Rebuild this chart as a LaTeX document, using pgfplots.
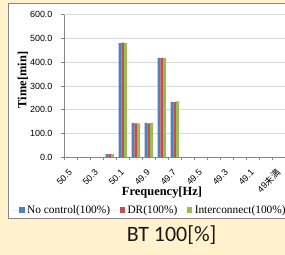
\documentclass[border=0pt]{standalone}
\usepackage{pgfplots}
\pgfplotsset{compat=1.18}
\usepackage{fontspec}
\setmainfont{Liberation Serif}
\newfontfamily\arial{Liberation Sans}
\newfontfamily\cjk{Noto Sans CJK JP}
\newfontfamily\calibri{Carlito}
\definecolor{bgY}{HTML}{FFF2CC}
\definecolor{cBlue}{HTML}{4F81BD}
\definecolor{cRed}{HTML}{C0504D}
\definecolor{cGreen}{HTML}{9BBB59}
\definecolor{axgray}{HTML}{868686}
\definecolor{gridc}{HTML}{D9D9D9}
\pgfplotsset{sqleg/.style={legend image code/.code={\path (-8.6bp,0bp) -- (7.2bp,0bp); \fill[#1] (0bp,-2.8bp) rectangle (5.5bp,2.8bp);}}}
\begin{document}
\begin{tikzpicture}[x=1bp,y=1bp]
\useasboundingbox (0,0) rectangle (285,255);
\clip (0,0) rectangle (285,255);
\fill[bgY] (0,0) rectangle (285,255);
\filldraw[fill=white, draw=axgray, line width=0.8bp] (8,37) rectangle (300,251.5);
\begin{axis}[
  at={(64.3bp,97.7bp)}, anchor=south west,
  scale only axis, width=221bp, height=142.6bp,
  xmin=-0.5, xmax=16.5, ymin=0, ymax=600,
  ybar=0pt, bar width=2.8bp,
  axis x line*=bottom, axis y line*=left,
  axis line style={draw=axgray, line width=0.6bp},
  xtick={0,2,...,16},
  xticklabels={50.5,50.3,50.1,49.9,49.7,49.5,49.3,49.1,{49\cjk 未満}},
  minor xtick={-0.5,0.5,...,16.5},
  major x tick style={draw=none},
  minor x tick style={draw=axgray, line width=0.6bp},
  ytick={0,100,...,600},
  major y tick style={draw=axgray, line width=0.6bp},
  tick align=outside, major tick length=3bp, minor tick length=3bp,
  ymajorgrids, grid style={draw=gridc, line width=0.6bp},
  xticklabel style={xshift=0.5bp, yshift=-10bp, rotate=45, anchor=east, font=\arial\fontsize{9}{10}\selectfont, inner sep=1bp},
  yticklabel style={xshift=-5.3bp, font=\arial\fontsize{9}{10}\selectfont, /pgf/number format/.cd, fixed, fixed zerofill, precision=1, assume math mode=true},
  legend columns=3,
  legend style={at={(axis description cs:-0.2439,-0.3696)}, anchor=west, draw=none, fill=none, inner sep=0pt,
    font=\fontsize{11.4}{12}\selectfont, nodes={inner sep=0.8bp, anchor=west},
    /tikz/column sep=0pt,
    /tikz/every even column/.style={column sep=0pt},
    /tikz/every odd column/.style={column sep=0pt}},
]
\addplot[fill=cBlue, draw=none, sqleg=cBlue]
  coordinates {(3,13) (4,480) (5,145) (6,145) (7,418) (8,233)};
\addplot[fill=cRed, draw=none, sqleg=cRed]
  coordinates {(3,13) (4,482) (5,143) (6,143) (7,418) (8,232)};
\addplot[fill=cGreen, draw=none, sqleg=cGreen]
  coordinates {(3,13) (4,480) (5,143) (6,145) (7,418) (8,235)};
\legend{No control(100\%),DR(100\%),Interconnect(100\%)}
\end{axis}
\node[rotate=90, font=\bfseries\fontsize{12.5}{13}\selectfont] at (23,175) {Time[min]};
\node[font=\bfseries\fontsize{12.5}{13}\selectfont] at (162,62) {Frequency[Hz]};
\node[anchor=base, font=\calibri\fontsize{22}{24}\selectfont, text=black!90] at (171.7,13.3) {BT 100[\%]};
\end{tikzpicture}
\end{document}
